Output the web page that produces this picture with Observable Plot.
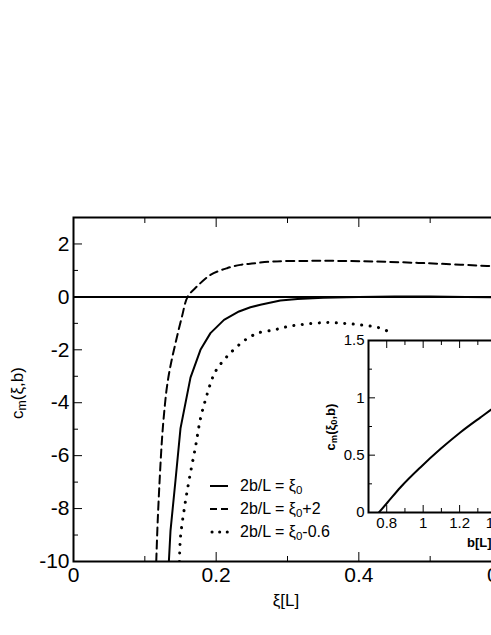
<!DOCTYPE html>
<html><head><meta charset="utf-8">
<script src="https://cdn.jsdelivr.net/npm/d3@7"></script>
<script src="https://cdn.jsdelivr.net/npm/@observablehq/plot@0.6"></script>
<style>
html,body{margin:0;padding:0;background:#fff;overflow:hidden;}
#wrap{position:relative;width:491px;height:635px;overflow:hidden;font-family:"Liberation Sans",Arial,sans-serif;color:#000;}
#main{position:absolute;left:0;top:0;}
#inset{position:absolute;left:328px;top:330px;}
.lbl{position:absolute;white-space:nowrap;line-height:1;}
.lbl sub{font-size:72%;vertical-align:-0.3em;line-height:0;}
.rot{transform:translate(-50%,-50%) rotate(-90deg);}
.legrow{position:absolute;left:209px;display:flex;align-items:center;font-size:16px;line-height:1;white-space:nowrap;transform:translateY(-50%);}
.legrow svg{margin-right:9px;}
.legrow sub{font-size:72%;vertical-align:-0.3em;line-height:0;}
</style></head><body>
<div id="wrap">
  <div id="main"></div>
  <div id="inset"></div>
  <div class="lbl rot" style="left:17px;top:393px;font-size:17px;">c<sub>m</sub>(ξ,b)</div>
  <div class="lbl" style="left:286px;top:600px;font-size:17px;transform:translate(-50%,-50%);">ξ[L]</div>
  <div class="lbl rot" style="left:330px;top:427px;font-size:13px;font-weight:bold;">c<sub>m</sub>(ξ<sub>0</sub>,b)</div>
  <div class="lbl" style="left:467px;top:542px;font-size:13px;font-weight:bold;transform:translateY(-50%);">b[L]</div>
  <div id="legend"></div>
</div>
<script>
// ---- main chart data ----
const xiSolid = [0.1337, 0.136, 0.143, 0.150, 0.164, 0.178, 0.192, 0.211, 0.232, 0.248, 0.262, 0.290, 0.314, 0.35, 0.40, 0.45, 0.50, 0.55, 0.60];
const cmSolid = [-10, -8.83, -6.93, -4.97, -3.05, -2.0, -1.37, -0.87, -0.55, -0.39, -0.30, -0.14, -0.08, -0.03, 0.0, 0.01, 0.01, 0.0, -0.02];

const xiDashed = [0.116, 0.118, 0.121, 0.124, 0.127, 0.131, 0.136, 0.143, 0.152, 0.160, 0.173, 0.192, 0.216, 0.234, 0.250, 0.281, 0.328, 0.374, 0.421, 0.468, 0.515, 0.580, 0.60];
const cmDashed = [-10, -8.5, -6.8, -5.4, -4.4, -3.4, -2.6, -1.75, -0.75, 0.0, 0.39, 0.83, 1.09, 1.21, 1.26, 1.34, 1.36, 1.36, 1.34, 1.30, 1.25, 1.17, 1.15];

const xiDotted = [0.1485, 0.150, 0.1557, 0.162, 0.171, 0.178, 0.186, 0.195, 0.201, 0.216, 0.237, 0.246, 0.258, 0.281, 0.304, 0.328, 0.356, 0.379, 0.403, 0.426, 0.440, 0.448];
const cmDotted = [-10, -9.08, -7.94, -6.93, -5.67, -4.6, -3.8, -3.05, -2.73, -2.23, -1.7, -1.54, -1.37, -1.25, -1.10, -1.02, -0.97, -1.0, -1.06, -1.15, -1.29, -1.44];

const xMajorTicks = [0, 0.2, 0.4, 0.6];
const xMinorTicks = [0.1, 0.3, 0.5];
const yMajorTicks = [-10, -8, -6, -4, -2, 0, 2];
const yMinorTicks = [-9, -7, -5, -3, -1, 1, 3];

// ---- inset data ----
const bInset = [0.757, 0.803, 0.876, 0.986, 1.096, 1.205, 1.315, 1.376, 1.45, 1.55];
const cmInset = [0, 0.085, 0.22, 0.395, 0.555, 0.70, 0.83, 0.90, 0.98, 1.08];
const bMajorTicks = [0.8, 1, 1.2, 1.4];
const bMinorTicks = [0.9, 1.1, 1.3, 1.5];
const cMajorTicks = [0, 0.5, 1, 1.5];
const cMinorTicks = [0.25, 0.75, 1.25];

// ---- legend ----
const legendLabels = [["2b/L = ξ", "0", ""], ["2b/L = ξ", "0", "+2"], ["2b/L = ξ", "0", "-0.6"]];
const legendDash = [null, "7,4", "0.1,7.5"];

const pts = (xs, ys) => xs.map((x, i) => ({x, y: ys[i]}));
const fmt = d => String(d);
const blank = () => "";

const mainPlot = Plot.plot({
  width: 520, height: 635,
  marginLeft: 73, marginRight: 19, marginTop: 217, marginBottom: 74,
  style: {maxWidth: "none", background: "transparent", fontFamily: "Liberation Sans, Arial, sans-serif", fontSize: "20px", color: "#000"},
  x: {domain: [0, 0.6], label: null},
  y: {domain: [-10, 3], label: null},
  marks: [
    Plot.ruleY([0], {stroke: "#000", strokeWidth: 2}),
    Plot.line(pts(xiDashed, cmDashed), {x: "x", y: "y", stroke: "#000", strokeWidth: 2, strokeDasharray: "8,5", curve: "catmull-rom", clip: true}),
    Plot.line(pts(xiDotted, cmDotted), {x: "x", y: "y", stroke: "#000", strokeWidth: 3, strokeDasharray: "0.1,8.4", strokeLinecap: "round", curve: "catmull-rom", clip: true}),
    Plot.line(pts(xiSolid, cmSolid), {x: "x", y: "y", stroke: "#000", strokeWidth: 2, clip: true}),
    Plot.frame({stroke: "#000", strokeWidth: 2}),
    Plot.axisX({ticks: xMajorTicks, tickSize: 0, tickPadding: 6, tickFormat: fmt, label: null, fontSize: 21}),
    Plot.axisX({ticks: xMajorTicks, tickSize: -9, tickFormat: blank, label: null}),
    Plot.axisX({ticks: xMinorTicks, tickSize: -5, tickFormat: blank, label: null}),
    Plot.axisX({anchor: "top", ticks: xMajorTicks, tickSize: -9, tickFormat: blank, label: null}),
    Plot.axisX({anchor: "top", ticks: xMinorTicks, tickSize: -5, tickFormat: blank, label: null}),
    Plot.axisY({ticks: yMajorTicks, tickSize: 0, tickPadding: 4, tickFormat: fmt, label: null, fontSize: 21}),
    Plot.axisY({ticks: yMajorTicks, tickSize: -9, tickFormat: blank, label: null}),
    Plot.axisY({ticks: yMinorTicks, tickSize: -5, tickFormat: blank, label: null})
  ]
});
document.getElementById("main").appendChild(mainPlot);

const insetPlot = Plot.plot({
  width: 214, height: 212,
  marginLeft: 40, marginRight: 10, marginTop: 10, marginBottom: 30,
  style: {maxWidth: "none", background: "transparent", fontFamily: "Liberation Sans, Arial, sans-serif", fontSize: "15px", color: "#000"},
  x: {domain: [0.7, 1.6], label: null},
  y: {domain: [0, 1.5], label: null},
  marks: [
    Plot.frame({fill: "white", stroke: null}),
    Plot.line(pts(bInset, cmInset), {x: "x", y: "y", stroke: "#000", strokeWidth: 2, curve: "monotone-x", clip: true}),
    Plot.frame({stroke: "#000", strokeWidth: 2}),
    Plot.axisX({ticks: bMajorTicks, tickSize: 0, tickPadding: 5, tickFormat: fmt, label: null}),
    Plot.axisX({ticks: bMajorTicks, tickSize: -7, tickFormat: blank, label: null}),
    Plot.axisX({ticks: bMinorTicks, tickSize: -4, tickFormat: blank, label: null}),
    Plot.axisX({anchor: "top", ticks: bMajorTicks, tickSize: -7, tickFormat: blank, label: null}),
    Plot.axisX({anchor: "top", ticks: bMinorTicks, tickSize: -4, tickFormat: blank, label: null}),
    Plot.axisY({ticks: cMajorTicks, tickSize: 0, tickPadding: 4, tickFormat: fmt, label: null}),
    Plot.axisY({ticks: cMajorTicks, tickSize: -7, tickFormat: blank, label: null}),
    Plot.axisY({ticks: cMinorTicks, tickSize: -4, tickFormat: blank, label: null})
  ]
});
document.getElementById("inset").appendChild(insetPlot);

// legend
const rowsY = [486, 509, 532];
const leg = document.getElementById("legend");
legendLabels.forEach((lab, i) => {
  const row = document.createElement("div");
  row.className = "legrow";
  row.style.top = rowsY[i] + "px";
  const dash = legendDash[i];
  const svg = `<svg width="22" height="8"><line x1="${i === 2 ? 3 : 1}" y1="4" x2="${i === 2 ? 21 : 19}" y2="4" stroke="#000" stroke-width="${i === 2 ? 3 : 2}" ${dash ? `stroke-dasharray="${dash}"` : ""} ${i === 2 ? 'stroke-linecap="round"' : ""}/></svg>`;
  row.innerHTML = svg + `<span>${lab[0]}<sub>${lab[1]}</sub>${lab[2]}</span>`;
  leg.appendChild(row);
});
</script>
</body></html>
